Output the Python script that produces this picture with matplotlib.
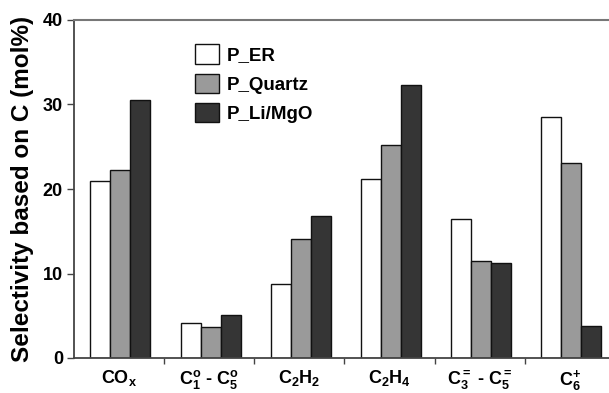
import matplotlib.pyplot as plt
import numpy as np

# 데이터
categories = [r'CO$_\mathregular{x}$',
              r'C$_\mathregular{1}^\mathregular{o}$ - C$_\mathregular{5}^\mathregular{o}$',
              r'C$_\mathregular{2}$H$_\mathregular{2}$',
              r'C$_\mathregular{2}$H$_\mathregular{4}$',
              r'C$_\mathregular{3}^\mathregular{=}$ - C$_\mathregular{5}^\mathregular{=}$',
              r'C$_\mathregular{6}^\mathregular{+}$']
p_er = [21.0, 4.1, 8.8, 21.2, 16.4, 28.5]
p_quartz = [22.2, 3.7, 14.1, 25.2, 11.5, 23.1]
p_limgo = [30.5, 5.1, 16.8, 32.3, 11.2, 3.8]
series_labels = ['P_ER', 'P_Quartz', 'P_Li/MgO']
series_colors = ['white', '#9a9a9a', '#353535']

plt.rcParams['font.family'] = 'Liberation Sans'
plt.rcParams['font.weight'] = 'bold'
plt.rcParams['mathtext.fontset'] = 'custom'
plt.rcParams['mathtext.rm'] = 'Liberation Sans:bold'
plt.rcParams['mathtext.it'] = 'Liberation Sans:bold'
plt.rcParams['mathtext.bf'] = 'Liberation Sans:bold'

fig = plt.figure(figsize=(6.09, 3.93), dpi=100)
ax = fig.add_axes([74/609, 1-358/393, 541/609, 338/393])

x = np.arange(len(categories))
w = 0.222
for i, (vals, lab, col) in enumerate(zip([p_er, p_quartz, p_limgo], series_labels, series_colors)):
    ax.bar(x + (i-1)*w + 0.015, vals, w, color=col, edgecolor='#111111', linewidth=1.0, label=lab)

ax.set_xlim(-0.5, 5.5)
ax.set_ylim(0, 40)
ax.set_yticks([0, 10, 20, 30, 40])
ax.tick_params(axis='y', labelsize=13, length=5, width=1, color='#444444', pad=3)
ax.set_xticks(x)
ax.set_xticklabels(categories, fontsize=13)
ax.tick_params(axis='x', which='major', length=0, pad=7)
ax.set_xticks(np.arange(0.5, 5.5, 1), minor=True)
ax.tick_params(axis='x', which='minor', length=4, width=1, color='#444444')

for s in ['left', 'bottom']:
    ax.spines[s].set_color('#444444')
    ax.spines[s].set_linewidth(1.3)
ax.spines['top'].set_color('#777777')
ax.spines['top'].set_linewidth(1.5)
ax.spines['right'].set_visible(False)

ax.set_ylabel('Selectivity based on C (mol%)', fontsize=17.5, fontweight='bold')
ax.yaxis.set_label_coords(-0.074, 0.5)

ax.legend(loc='upper left', bbox_to_anchor=(0.21, 0.95), frameon=False, fontsize=13.5,
          handlelength=1.3, handleheight=1.2, labelspacing=0.5, handletextpad=0.4,
          borderaxespad=0)

fig.savefig('out.png', dpi=100)
